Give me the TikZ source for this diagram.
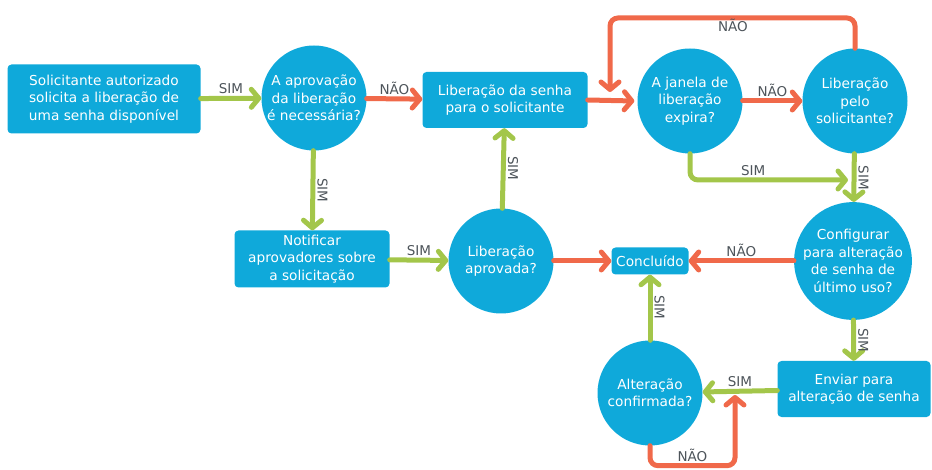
\documentclass[tikz,border=0pt]{standalone}
\usepackage{fontspec}
\setmainfont{DejaVu Sans}
\usepackage{tikz}
\usetikzlibrary{arrows.meta,calc}

\definecolor{flowblue}{HTML}{0FA9DA}
\definecolor{flowgreen}{HTML}{A3C64A}
\definecolor{floworange}{HTML}{F0694A}
\definecolor{flowgray}{HTML}{4D545A}

\begin{document}
\begin{tikzpicture}[x=1pt,y=-1pt]
\tikzset{
	task node/.style = {rectangle, rounded corners = 4, fill = flowblue, text = white,
		align = center, inner sep = 0, font = \fontsize{13.7}{17.5}\selectfont},
	decision node/.style = {circle, fill = flowblue, text = white, minimum size = 105,
		align = center, inner sep = 0, font = \fontsize{13.7}{17.5}\selectfont},
	flow/.style = {line width = 5, line cap = round, rounded corners = 8,
		-{Straight Barb[length = 7.5, width = 18, line cap = round, line join = round]}},
	yes/.style = {flow, flowgreen},
	no/.style = {flow, floworange},
	tag/.style = {text = flowgray, font = \fontsize{13.5}{15}\selectfont, inner sep = 2},
}
\useasboundingbox (0,0) rectangle (932,470);

% tasks
\node(request)[task node, minimum width = 193, minimum height = 69] at (104,99)
	{Solicitante autorizado\\solicita a liberação de\\uma senha disponível};
\node(release)[task node, minimum width = 165, minimum height = 56] at (505,100)
	{Liberação da senha\\para o solicitante};
\node(notify)[task node, minimum width = 155, minimum height = 57] at (312,259)
	{Notificar\\aprovadores sobre\\a solicitação};
\node(done)[task node, minimum width = 77, minimum height = 27] at (650,261)
	{Concluído};
\node(send)[task node, minimum width = 153, minimum height = 56] at (854,389)
	{Enviar para\\alteração de senha};

% decisions
\node(needed)[decision node] at (314,98) {A aprovação\\da liberação\\é necessária?};
\node(window)[decision node] at (690,101) {A janela de\\liberação\\expira?};
\node(byuser)[decision node] at (855,101) {Liberação\\pelo\\solicitante?};
\node(config)[decision node] at (853,261) {Configurar\\para alteração\\de senha de\\último uso?};
\node(approved)[decision node] at (501,261) {Liberação\\aprovada?};
\node(confirmed)[decision node] at (650,393) {Alteração\\confirmada?};

\coordinate (looptop) at (610,18);
\coordinate (loopend) at (610,92);
\coordinate (merge1) at (848,180);
\coordinate (merge2) at (735,395);

% connectors
\draw [yes] (request) to node[tag, above]{SIM} (needed);
\draw [no] (needed) to node[tag, above]{NÃO} (release);
\draw [no] (release.east) to ($(window.west)+(-3,0)$);
\draw [no] (window) to node[tag, above]{NÃO} (byuser);
\draw [no] (byuser.north) |- (looptop) to (loopend);
\node [tag] at (733,25) {NÃO};
\draw [yes] (window.south) |- node[tag, above, pos = 0.7]{SIM} (merge1);
\draw [yes] (byuser) to node[tag, rotate = -90, anchor = south]{SIM} (config);
\draw [no] (config) to node[tag, above]{NÃO} (done);
\draw [yes] (config) to node[tag, rotate = -90, anchor = south]{SIM} (send);
\draw [yes] (send) to node[tag, above]{SIM} (confirmed);
\draw [no] (confirmed.south) -- ++(0,20) -| node[tag, above, pos = 0.25]{NÃO} (merge2);
\draw [yes] (confirmed) to node[tag, rotate = -90, anchor = south]{SIM} (done);
\draw [yes] (needed) to node[tag, rotate = -90, anchor = south]{SIM} (notify);
\draw [yes] (notify) to node[tag, above]{SIM} (approved);
\draw [yes] (approved) to node[tag, rotate = -90, anchor = south]{SIM} (release);
\draw [no] (approved) to (done);

\end{tikzpicture}
\end{document}
